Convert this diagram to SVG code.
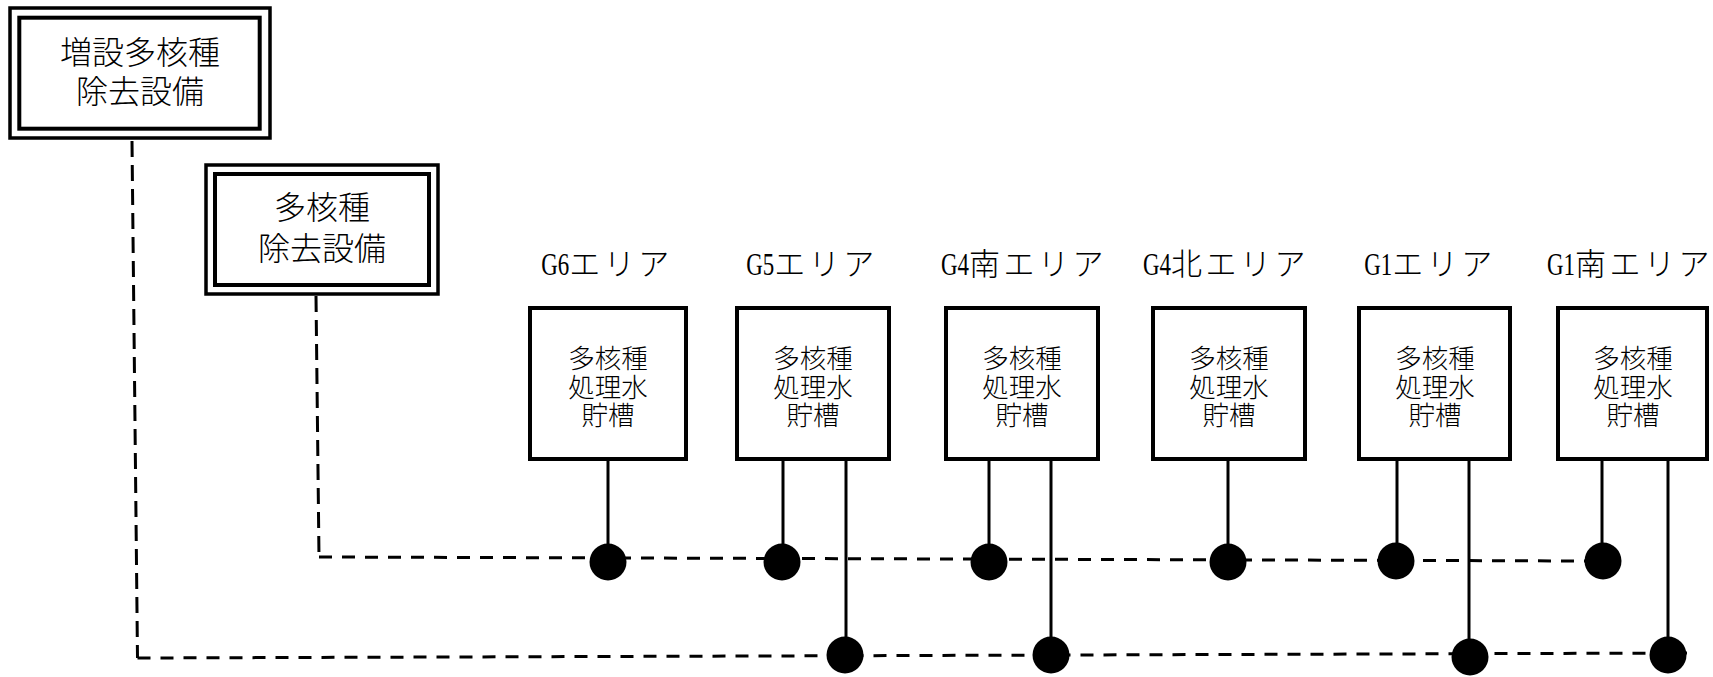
<svg xmlns="http://www.w3.org/2000/svg" width="1713" height="677" viewBox="0 0 1713 677">
<defs>
<style>
.bg{fill:#fff}
.outer{fill:#fff;stroke:#000;stroke-width:3.5}
.inner{fill:none;stroke:#000;stroke-width:4}
.tank{fill:#fff;stroke:#000;stroke-width:4}
.t32{font-family:"Noto Sans CJK JP",sans-serif;font-weight:300;font-size:32px;fill:#000;text-anchor:middle}
.t27{font-family:"Noto Sans CJK JP",sans-serif;font-weight:300;font-size:26.5px;fill:#000;text-anchor:middle}
.lbl{font-family:"Noto Sans CJK JP",sans-serif;font-weight:300;font-size:31px;fill:#000;text-anchor:middle}
.lat{font-family:"Liberation Serif",serif;font-weight:normal;font-size:31px}
.kana{letter-spacing:3.5px}
.dashv{fill:none;stroke:#000;stroke-width:3;stroke-dasharray:16 8}
.dashh{fill:none;stroke:#000;stroke-width:3;stroke-dasharray:13 10}
.stem{fill:none;stroke:#000;stroke-width:3}
.dot{fill:#000}
</style>
</defs>
<rect class="bg" x="0" y="0" width="1713" height="677"/>

<g id="connectors">
<line class="dashv" x1="132" y1="141" x2="137.5" y2="658"/>
<line class="dashh" x1="137.5" y1="658" x2="1687" y2="653"/>
<line class="dashv" x1="316" y1="296" x2="319" y2="557"/>
<line class="dashh" x1="319" y1="557" x2="1588" y2="561"/>
<line class="stem" x1="608" y1="461" x2="608" y2="562"/>
<line class="stem" x1="783" y1="461" x2="783" y2="562"/>
<line class="stem" x1="846" y1="461" x2="846" y2="655"/>
<line class="stem" x1="989" y1="461" x2="989" y2="562"/>
<line class="stem" x1="1051" y1="461" x2="1051" y2="655"/>
<line class="stem" x1="1228" y1="461" x2="1228" y2="562"/>
<line class="stem" x1="1397" y1="461" x2="1397" y2="561"/>
<line class="stem" x1="1469" y1="461" x2="1469" y2="657"/>
<line class="stem" x1="1602" y1="461" x2="1602" y2="561"/>
<line class="stem" x1="1668" y1="461" x2="1668" y2="655"/>
<circle class="dot" cx="608" cy="562" r="18.5"/>
<circle class="dot" cx="782" cy="562" r="18.5"/>
<circle class="dot" cx="989" cy="562" r="18.5"/>
<circle class="dot" cx="1228" cy="562" r="18.5"/>
<circle class="dot" cx="1396" cy="561" r="18.5"/>
<circle class="dot" cx="1603" cy="561" r="18.5"/>
<circle class="dot" cx="845" cy="655" r="18.5"/>
<circle class="dot" cx="1051" cy="655" r="18.5"/>
<circle class="dot" cx="1470" cy="657" r="18.5"/>
<circle class="dot" cx="1668" cy="655" r="18.5"/>
</g>

<g id="node-zousetsu-alps">
<rect class="outer" x="10" y="8" width="260" height="130"/>
<rect class="inner" x="19.3" y="17.7" width="240.4" height="111"/>
<text class="t32" x="140" y="64">増設多核種</text>
<text class="t32" x="140" y="103">除去設備</text>
</g>

<g id="node-alps">
<rect class="outer" x="206" y="165" width="232" height="129"/>
<rect class="inner" x="215" y="174" width="214" height="111"/>
<text class="t32" x="322" y="219">多核種</text>
<text class="t32" x="322" y="260">除去設備</text>
</g>

<g id="node-g6">
<text class="lbl" x="607" y="275"><tspan class="lat" textLength="28" lengthAdjust="spacingAndGlyphs">G6</tspan><tspan class="kana">エリア</tspan></text>
<rect class="tank" x="530" y="308" width="156" height="151"/>
<text class="t27" x="608" y="368">多核種</text>
<text class="t27" x="608" y="397">処理水</text>
<text class="t27" x="608" y="425">貯槽</text>
</g>

<g id="node-g5">
<text class="lbl" x="812" y="275"><tspan class="lat" textLength="28" lengthAdjust="spacingAndGlyphs">G5</tspan><tspan class="kana">エリア</tspan></text>
<rect class="tank" x="737" y="308" width="152" height="151"/>
<text class="t27" x="813" y="368">多核種</text>
<text class="t27" x="813" y="397">処理水</text>
<text class="t27" x="813" y="425">貯槽</text>
</g>

<g id="node-g4s">
<text class="lbl" x="1024" y="275"><tspan class="lat" textLength="28" lengthAdjust="spacingAndGlyphs">G4</tspan><tspan class="kana">南エリア</tspan></text>
<rect class="tank" x="946" y="308" width="152" height="151"/>
<text class="t27" x="1022" y="368">多核種</text>
<text class="t27" x="1022" y="397">処理水</text>
<text class="t27" x="1022" y="425">貯槽</text>
</g>

<g id="node-g4n">
<text class="lbl" x="1226" y="275"><tspan class="lat" textLength="28" lengthAdjust="spacingAndGlyphs">G4</tspan><tspan class="kana">北エリア</tspan></text>
<rect class="tank" x="1153" y="308" width="152" height="151"/>
<text class="t27" x="1229" y="368">多核種</text>
<text class="t27" x="1229" y="397">処理水</text>
<text class="t27" x="1229" y="425">貯槽</text>
</g>

<g id="node-g1">
<text class="lbl" x="1430" y="275"><tspan class="lat" textLength="28" lengthAdjust="spacingAndGlyphs">G1</tspan><tspan class="kana">エリア</tspan></text>
<rect class="tank" x="1359" y="308" width="151" height="151"/>
<text class="t27" x="1435" y="368">多核種</text>
<text class="t27" x="1435" y="397">処理水</text>
<text class="t27" x="1435" y="425">貯槽</text>
</g>

<g id="node-g1s">
<text class="lbl" x="1630" y="275"><tspan class="lat" textLength="28" lengthAdjust="spacingAndGlyphs">G1</tspan><tspan class="kana">南エリア</tspan></text>
<rect class="tank" x="1558" y="308" width="149" height="151"/>
<text class="t27" x="1633" y="368">多核種</text>
<text class="t27" x="1633" y="397">処理水</text>
<text class="t27" x="1633" y="425">貯槽</text>
</g>
</svg>
